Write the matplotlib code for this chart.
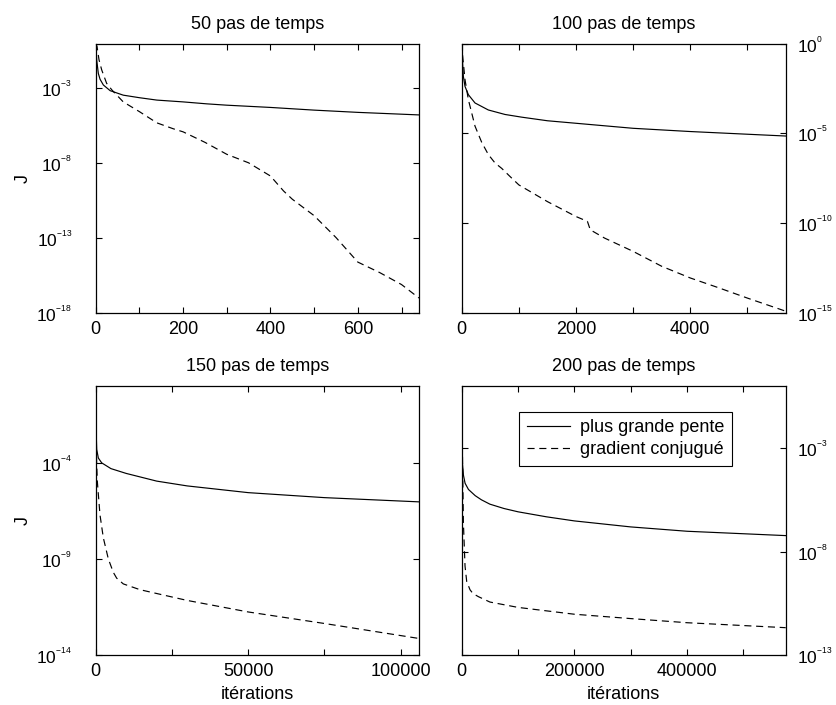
import numpy as np
import matplotlib
matplotlib.use("Agg")
import matplotlib.pyplot as plt
from matplotlib.ticker import FixedLocator, FuncFormatter, NullLocator, NullFormatter

plt.rcParams['font.family'] = ['Liberation Sans', 'DejaVu Sans']
plt.rcParams['mathtext.fontset'] = 'custom'
plt.rcParams['mathtext.rm'] = 'Liberation Sans'
plt.rcParams['mathtext.it'] = 'Liberation Sans'
plt.rcParams['font.size'] = 13

# donnees : iterations et log10(J)
titres = ["50 pas de temps", "100 pas de temps", "150 pas de temps", "200 pas de temps"]

# 50 pas de temps
it_pgp_50 = [0, 2.3, 6, 10, 17.5, 33, 63, 100, 140, 200, 254, 300, 400, 500, 600, 740]
lj_pgp_50 = [0.0, -1.1, -2.0, -2.39, -2.77, -3.15, -3.45, -3.62, -3.78, -3.9, -4.03, -4.12,
             -4.27, -4.45, -4.6, -4.77]
it_gc_50 = [0, 3, 7.6, 13.7, 25, 37, 63, 100, 140, 178, 200, 250, 300, 350, 400, 430, 450,
            500, 550, 600, 650, 700, 740]
lj_gc_50 = [0.0, -0.2, -1.09, -1.76, -2.66, -3.1, -3.9, -4.55, -5.3, -5.7, -5.9, -6.6, -7.4,
            -7.97, -8.85, -9.85, -10.4, -11.5, -12.96, -14.6, -15.3, -16.1, -17.0]

# 100 pas de temps
it_pgp_100 = [0, 12, 29, 58, 117, 233, 466, 758, 1050, 1500, 2000, 3000, 4000, 5000, 5670]
lj_pgp_100 = [0.0, -0.9, -1.83, -2.39, -2.85, -3.31, -3.7, -3.95, -4.1, -4.3, -4.44, -4.72,
              -4.9, -5.05, -5.15]
it_gc_100 = [0, 12, 58, 117, 233, 350, 466, 583, 700, 845, 1000, 1500, 2000, 2200, 2250,
             2500, 3000, 3500, 4000, 4500, 5000, 5670]
lj_gc_100 = [0.0, -0.54, -2.02, -3.13, -4.6, -5.5, -6.18, -6.65, -6.95, -7.4, -7.87, -8.8,
             -9.63, -9.9, -10.37, -10.83, -11.57, -12.4, -13.05, -13.6, -14.17, -14.9]

# 150 pas de temps
it_pgp_150 = [0, 150, 327, 870, 1960, 5000, 10000, 20000, 30000, 50000, 75000, 106000]
lj_pgp_150 = [0.0, -2.4, -3.3, -3.75, -4.0, -4.3, -4.55, -4.95, -5.2, -5.55, -5.81, -6.03]
it_gc_150 = [0, 100, 300, 550, 1400, 2500, 4140, 5780, 6870, 9050, 14500, 20000, 30000,
             50000, 75000, 106000]
lj_gc_150 = [0.0, -2.0, -4.0, -5.0, -6.7, -7.9, -9.0, -9.7, -10.0, -10.3, -10.6, -10.8,
             -11.16, -11.76, -12.36, -13.14]

# 200 pas de temps
it_pgp_200 = [0, 500, 1200, 3000, 6000, 12000, 24000, 35000, 50000, 75000, 100000, 150000,
              200000, 300000, 400000, 575000]
lj_pgp_200 = [0.0, -2.5, -3.7, -4.3, -4.7, -5.0, -5.3, -5.5, -5.71, -5.92, -6.08, -6.32,
              -6.52, -6.81, -7.02, -7.23]
it_gc_200 = [0, 1000, 3000, 5900, 8900, 14800, 20000, 29600, 50000, 100000, 200000, 300000,
             400000, 575000]
lj_gc_200 = [0.0, -2.6, -6.6, -8.7, -9.45, -9.85, -10.03, -10.18, -10.44, -10.7, -11.03,
             -11.24, -11.44, -11.68]

xmax = [740, 5670, 106000, 575000]
ymin = [1e-18, 1e-15, 1e-14, 1e-13]
yticks = [[1e-18, 1e-13, 1e-8, 1e-3], [1e-15, 1e-10, 1e-5, 1e0],
          [1e-14, 1e-9, 1e-4], [1e-13, 1e-8, 1e-3]]
xticks = [[0, 200, 400, 600], [0, 2000, 4000], [0, 50000, 100000], [0, 200000, 400000]]
xminor = [[100, 300, 500, 700], [1000, 3000, 5000], [25000, 75000], [100000, 300000, 500000]]

donnees = [
    (it_pgp_50, lj_pgp_50, it_gc_50, lj_gc_50),
    (it_pgp_100, lj_pgp_100, it_gc_100, lj_gc_100),
    (it_pgp_150, lj_pgp_150, it_gc_150, lj_gc_150),
    (it_pgp_200, lj_pgp_200, it_gc_200, lj_gc_200),
]


def puissance(v, pos):
    # exposant en petit, comme dans la figure d'origine
    return r'$\mathregular{10^{{}^{%d}}}$' % int(round(np.log10(v)))


W, H = 836, 705
fig = plt.figure(figsize=(W / 100, H / 100), dpi=100)
cadres = [(95.7, 43.5, 419, 313), (461.7, 43.5, 785.7, 313),
          (95.7, 386, 419, 655), (461.7, 386, 785.7, 655)]

for k in range(4):
    x0, y0, x1, y1 = cadres[k]
    ax = fig.add_axes([x0 / W, 1 - y1 / H, (x1 - x0) / W, (y1 - y0) / H])
    ipg, lpg, igc, lgc = donnees[k]
    ax.plot(ipg, 10.0 ** np.array(lpg), color='black', lw=0.85, label='plus grande pente')
    ax.plot(igc, 10.0 ** np.array(lgc), color='black', lw=0.85, ls=(0, (6, 4)),
            label='gradient conjugué')
    ax.set_yscale('log')
    ax.set_xlim(0, xmax[k])
    ax.set_ylim(ymin[k], 1e0)
    ax.yaxis.set_major_locator(FixedLocator(yticks[k]))
    ax.yaxis.set_major_formatter(FuncFormatter(puissance))
    ax.yaxis.set_minor_locator(NullLocator())
    ax.yaxis.set_minor_formatter(NullFormatter())
    ax.set_xticks(xticks[k])
    ax.set_xticks(xminor[k], minor=True)
    ax.tick_params(which='both', direction='in', top=True, right=True,
                   length=4, width=0.8, labelsize=12.5)
    ax.tick_params(axis='x', pad=6, labelsize=13)
    if k % 2 == 1:
        ax.tick_params(axis='y', labelleft=False, labelright=True, pad=8)
    else:
        ax.tick_params(axis='y', pad=17)
        ax.set_ylabel('J', fontsize=13)
        ax.yaxis.set_label_coords(-0.197, 0.5)
    if k >= 2:
        ax.set_xlabel('itérations', fontsize=13, labelpad=4)
    ax.set_title(titres[k], fontsize=13, pad=10.5)
    for s in ax.spines.values():
        s.set_linewidth(0.9)
    if k == 3:
        leg = ax.legend(loc='upper left', bbox_to_anchor=(0.177, 0.905), fontsize=13,
                        fancybox=False, edgecolor='black', framealpha=1, borderaxespad=0,
                        handlelength=2.4, borderpad=0.42, labelspacing=0.28,
                        handletextpad=0.55)
        leg.get_frame().set_linewidth(0.8)

fig.savefig('out.png', dpi=100)
